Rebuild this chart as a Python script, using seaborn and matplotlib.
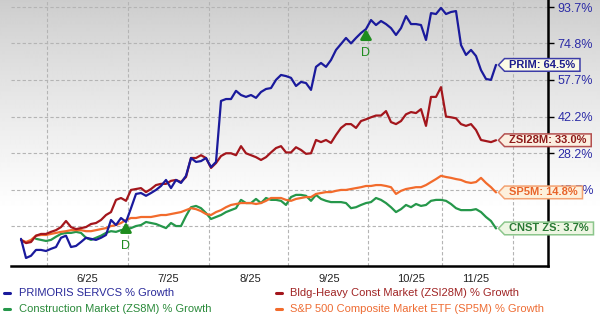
import numpy as np
import pandas as pd
import matplotlib
matplotlib.use("Agg")
import matplotlib.pyplot as plt
import seaborn as sns
from matplotlib.path import Path
from matplotlib.lines import Line2D
from matplotlib.ticker import NullLocator

sns.set_theme(style="white")
plt.rcParams['font.family'] = ['Liberation Sans', 'DejaVu Sans']

# ---------------- data (cumulative % growth) ----------------
PRIM = [0.7, -4.6, -4.0, -2.4, -2.4, -2.7, -2.1, -1.6, 1.0, 1.6,
        -1.6, -1.3, -0.2, 1.0, 0.7, 0.4, 1.0, 1.8, 6.2, 4.7,
        6.8, 5.6, 9.8, 14.3, 14.6, 13.7, 14.6, 15.6, 16.9, 18.9,
        16.2, 18.9, 17.9, 20.3, 26.5, 25.1, 25.4, 26.5, 23.3, 25.1,
        48.6, 49.4, 49.4, 52.9, 51.1, 50.3, 51.1, 49.9, 52.4, 53.7,
        54.1, 57.7, 59.9, 59.4, 58.6, 55.0, 56.8, 56.3, 53.3, 63.6,
        65.4, 63.6, 66.8, 71.6, 74.5, 77.5, 74.8, 77.5, 80.0, 82.0,
        86.7, 84.1, 86.2, 84.6, 82.5, 79.0, 82.5, 88.8, 84.6, 84.6,
        84.1, 76.5, 90.4, 89.9, 93.2, 89.9, 91.0, 91.5, 74.0, 69.2,
        71.6, 68.7, 62.1, 58.1, 57.7, 64.5]
ZSI28M = [0.4, -0.5, -0.2, 1.6, 2.1, 2.1, 2.7, 3.2, 4.1, 5.9,
          4.1, 3.5, 3.8, 4.1, 5.0, 5.3, 6.2, 7.7, 8.6, 12.4,
          13.0, 12.1, 15.6, 15.9, 16.2, 14.9, 15.9, 17.2, 17.6, 17.6,
          18.6, 18.9, 18.2, 19.9, 26.5, 26.5, 27.5, 26.5, 23.0, 24.7,
          27.2, 28.2, 28.2, 27.5, 30.8, 28.2, 27.5, 26.8, 25.8, 26.8,
          28.5, 30.1, 30.8, 28.5, 28.5, 30.4, 29.4, 28.0, 28.2, 33.1,
          32.3, 33.1, 32.0, 35.0, 37.7, 39.2, 39.2, 37.7, 40.4, 41.1,
          41.9, 42.6, 42.6, 44.4, 40.0, 39.2, 40.4, 43.1, 44.0, 43.6,
          45.2, 38.5, 50.3, 50.3, 54.5, 42.2, 41.9, 41.5, 39.2, 38.5,
          39.2, 36.9, 33.1, 32.7, 32.3, 33.0]
SP5M = [0.4, -0.2, 0.4, 1.6, 1.8, 1.8, 2.1, 2.4, 2.7, 2.9,
        3.2, 3.2, 3.2, 2.9, 2.9, 3.2, 3.5, 3.8, 4.4, 4.7,
        5.3, 6.2, 6.8, 6.8, 7.1, 7.1, 7.1, 7.4, 7.7, 7.7,
        8.0, 8.3, 8.6, 9.2, 9.8, 9.5, 8.9, 8.0, 7.7, 8.6,
        9.2, 10.1, 10.8, 11.1, 11.4, 11.4, 11.4, 11.1, 11.4, 12.1,
        13.0, 13.0, 13.0, 12.4, 12.1, 12.7, 13.0, 13.3, 13.3, 14.3,
        14.6, 14.9, 14.9, 15.3, 15.6, 15.6, 15.9, 16.2, 16.5, 16.9,
        16.9, 17.2, 17.2, 16.9, 16.5, 14.3, 15.3, 15.9, 16.2, 16.5,
        16.5, 17.2, 18.2, 19.2, 20.3, 19.9, 19.6, 19.2, 18.9, 18.2,
        17.9, 18.2, 19.6, 17.9, 16.5, 14.8]
CNST_START = 3
CNST = [0.7, 0.4, 0.1, 0.4, 1.3, 2.1, 2.4,
        2.4, 2.7, 2.4, 1.0, 0.4, 1.0, 1.6, 2.4, 2.9, 2.7,
        3.2, 3.5, 3.8, 4.4, 4.7, 5.6, 5.3, 5.0, 4.4, 3.8,
        5.3, 4.4, 4.4, 7.4, 10.1, 10.5, 9.8, 8.3, 6.5, 7.1,
        7.7, 8.6, 9.2, 9.8, 12.4, 11.4, 11.4, 12.7, 11.4, 13.0,
        12.4, 12.4, 12.1, 10.8, 13.3, 14.0, 14.0, 13.7, 12.1, 14.0,
        12.7, 12.1, 11.7, 11.7, 11.7, 11.4, 9.8, 10.1, 10.8, 11.4,
        11.7, 13.0, 12.4, 11.4, 10.1, 8.6, 9.5, 10.8, 10.1, 11.1,
        10.5, 10.8, 12.1, 12.4, 12.4, 12.1, 11.1, 9.8, 9.2, 9.2,
        9.2, 9.5, 8.6, 7.1, 5.9, 3.7]

DIVIDEND_IDX = [21, 69]

MONTH_LABELS = ["6/25", "7/25", "8/25", "9/25", "10/25", "11/25"]
MONTH_LABEL_POS = [13.2, 29.4, 45.8, 61.6, 78.0, 91.0]
MONTH_GRID_POS = [5.2, 21.4, 37.6, 53.4, 69.4, 84.2, 98.4]

YTICK_VALUES = [93.7, 74.8, 57.7, 42.2, 28.2, 15.7, 4.3]
# the 4.3% label sits fully behind the CNST tag in the reference
YTICK_LABELS = ["93.7%", "74.8%", "57.7%", "42.2%", "28.2%", "15.7%", ""]

SERIES = ["CNST ZS", "SP5M", "ZSI28M", "PRIM"]
LINE_COLORS = {"PRIM": "#1a1a9c", "ZSI28M": "#a3161c",
               "SP5M": "#f26b2c", "CNST ZS": "#25974a"}
LEGEND_LABELS = ["PRIMORIS SERVCS % Growth",
                 "Bldg-Heavy Const Market (ZSI28M) % Growth",
                 "Construction Market (ZS8M) % Growth",
                 "S&P 500 Composite Market ETF (SP5M) % Growth"]

# ---------------- build long table ----------------
rows = []
for name, vals, start in [("PRIM", PRIM, 0), ("ZSI28M", ZSI28M, 0),
                          ("SP5M", SP5M, 0), ("CNST ZS", CNST, CNST_START)]:
    for k, v in enumerate(vals):
        rows.append({"idx": start + k, "growth": v, "ratio": 1 + v / 100.0, "series": name})
df = pd.DataFrame(rows)

# ---------------- figure ----------------
W, H = 600, 318
fig = plt.figure(figsize=(W / 100, H / 100), dpi=100)

bg = fig.add_axes([0, 0, 1, 1], zorder=-10)
yy = np.arange(H)
g = 0.80 + 0.20 * np.clip(yy / 210.0, 0, 1) ** 0.85
img = np.repeat(g[:, None], 2, axis=1)
bg.imshow(img, cmap="gray", vmin=0, vmax=1, aspect="auto",
          extent=[0, 1, 0, 1], origin="upper", interpolation="bilinear")
bg.axis("off")

L, R, T, B = 11, 548, 0, 266
ax = fig.add_axes([L / W, (H - B) / H, (R - L) / W, (B - T) / H])
ax.set_facecolor("none")

sns.lineplot(data=df, x="idx", y="ratio", hue="series", hue_order=SERIES,
             palette=LINE_COLORS, linewidth=1.6, estimator=None,
             legend=False, ax=ax)

ax.set_yscale("log")
ax.set_ylim(0.9327, 1.9757)
ax.set_xlim(-2, 105.4)
ax.set_xlabel("")
ax.set_ylabel("")

ax.yaxis.tick_right()
ax.set_yticks([1 + v / 100 for v in YTICK_VALUES])
ax.set_yticklabels(YTICK_LABELS)
ax.yaxis.set_minor_locator(NullLocator())
ax.tick_params(axis="y", which="major", right=True, left=False, length=4,
               width=1, color="black", labelcolor="#2b2ba6", labelsize=9, pad=3)

ax.set_xticks(MONTH_LABEL_POS)
ax.set_xticklabels(MONTH_LABELS)
ax.set_xticks(MONTH_GRID_POS, minor=True)
ax.tick_params(axis="x", which="both", length=0, labelsize=8,
               labelcolor="#222222", pad=6)

grid_kw = dict(color="#b4b4b4", linestyle=(0, (3, 2)), linewidth=0.8)
ax.grid(False)
ax.grid(axis="y", which="major", **grid_kw)
ax.grid(axis="x", which="minor", **grid_kw)
ax.set_axisbelow(True)

for s in ["left", "top"]:
    ax.spines[s].set_visible(False)
for s in ["bottom", "right"]:
    ax.spines[s].set_visible(True)
    ax.spines[s].set_color("black")
    ax.spines[s].set_linewidth(1.8)


# ---------------- end-value tags ----------------
def tag_box(x0, y0, width, height, mutation_size):
    px = 0.42 * mutation_size
    py = 0.12 * mutation_size
    tip = 0.55 * mutation_size
    l, r = x0 - px, x0 + width + px
    b, t = y0 - py, y0 + height + py
    m = (b + t) / 2
    return Path([(l - tip, m), (l, t), (r, t), (r, b), (l, b), (l - tip, m)],
                closed=True)


TAGS = [("PRIM", PRIM, "PRIM", "#1c1c8c", "#3c3ca8", "#fbfbe6"),
        ("ZSI28M", ZSI28M, "ZSI28M", "#8e1a1a", "#b45050", "#fbeee0"),
        ("SP5M", SP5M, "SP5M", "#e8642a", "#f3a272", "#fdf0dc"),
        ("CNST ZS", CNST, "CNST ZS", "#2a7a35", "#8cc68c", "#eef6e3")]
for key, vals, label, tc, ec, fc in TAGS:
    last_i = df[df.series == key].idx.max()
    ax.annotate(f"{label}: {vals[-1]:.1f}%", xy=(last_i, 1 + vals[-1] / 100),
                xytext=(9.5, 0), textcoords="offset points", ha="left",
                va="center", fontsize=8, fontweight="bold", color=tc,
                bbox=dict(boxstyle=tag_box, fc=fc, ec=ec, lw=1.1),
                annotation_clip=False, zorder=6)

# ---------------- dividend markers ----------------
for di in DIVIDEND_IDX:
    ax.annotate("D", xy=(di, 1 + PRIM[di] / 100), xytext=(0, -17.5),
                textcoords="offset points", ha="center", va="center",
                color="#1e8c1e", fontsize=9,
                arrowprops=dict(arrowstyle="-|>,head_length=0.7,head_width=0.4",
                                color="#1e8c1e", lw=2.0, shrinkA=4, shrinkB=0,
                                mutation_scale=8),
                zorder=7)

# ---------------- legend ----------------
LEG_POS = [(7, 19, 293), (279, 290, 293), (7, 19, 309), (279, 290, 309)]
LEG_KEYS = ["PRIM", "ZSI28M", "CNST ZS", "SP5M"]
LEG_TEXT_COLORS = {"PRIM": "#2a2a9a", "ZSI28M": "#a02424",
                   "CNST ZS": "#2a8a3a", "SP5M": "#ee6c33"}
for (dx, tx, ty), key, lab in zip(LEG_POS, LEG_KEYS,
                                  [LEGEND_LABELS[0], LEGEND_LABELS[1],
                                   LEGEND_LABELS[2], LEGEND_LABELS[3]]):
    yf = (H - ty) / H
    fig.add_artist(Line2D([(dx - 3) / W, (dx + 3) / W], [yf, yf],
                          color=LINE_COLORS[key], lw=2.2,
                          transform=fig.transFigure))
    fig.text(tx / W, yf, lab, color=LEG_TEXT_COLORS[key], fontsize=8,
             ha="left", va="center")

fig.savefig("out.png", dpi=100)
